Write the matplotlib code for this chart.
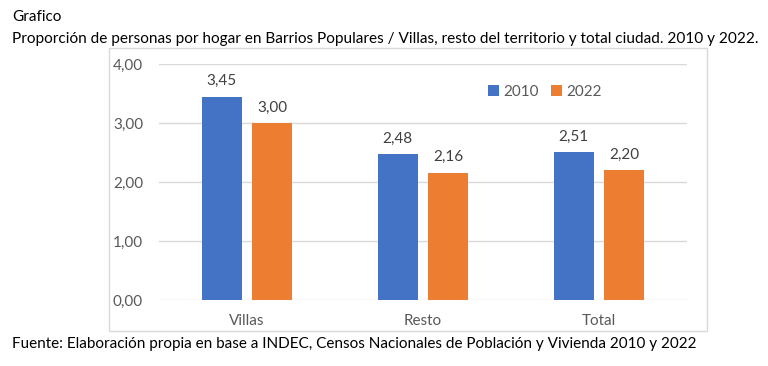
import matplotlib.pyplot as plt
import numpy as np

categorias = ['Villas', 'Resto', 'Total']
anio_2010 = [3.45, 2.48, 2.51]
anio_2022 = [3.00, 2.16, 2.20]
series = ['2010', '2022']

azul = '#4472C4'
naranja = '#ED7D31'
gris = '#595959'

plt.rcParams['font.family'] = ['Lato', 'DejaVu Sans']

fig = plt.figure(figsize=(7.68, 3.66), dpi=100)
ax = fig.add_axes([159 / 768, 1 - 300 / 366, 528 / 768, (300 - 64.3) / 366])

# marco del grafico
fig.patches.append(plt.Rectangle((109 / 768, 1 - 330.7 / 366), (706.7 - 109) / 768,
                                 (330.7 - 48.3) / 366, transform=fig.transFigure,
                                 fill=False, edgecolor='#D9D9D9', linewidth=1))

x = np.arange(len(categorias))
w = 0.224
d = 0.143
b1 = ax.bar(x - d, anio_2010, w, color=azul, label=series[0], zorder=3)
b2 = ax.bar(x + d, anio_2022, w, color=naranja, label=series[1], zorder=3)

for barras in (b1, b2):
    for r in barras:
        ax.annotate(f'{r.get_height():.2f}'.replace('.', ','),
                    (r.get_x() + r.get_width() / 2, r.get_height()),
                    xytext=(0, 6), textcoords='offset points',
                    ha='center', va='bottom', fontsize=11, color='#404040')

ax.set_xlim(-0.5, 2.5)
ax.set_ylim(0, 4)
ax.set_yticks([0, 1, 2, 3, 4])
ax.set_yticklabels(['0,00', '1,00', '2,00', '3,00', '4,00'])
ax.set_xticks(x)
ax.set_xticklabels(categorias)
ax.tick_params(axis='both', length=0, labelsize=11, labelcolor=gris)
ax.tick_params(axis='y', pad=11.5)
ax.tick_params(axis='x', pad=10)
ax.grid(axis='y', color='#D9D9D9', linewidth=1, zorder=0)
for s in ax.spines.values():
    s.set_visible(False)

ax.legend(loc='center', bbox_to_anchor=((545 - 159) / 528, (300 - 91.5) / (300 - 64.3)),
          ncol=2, frameon=False, fontsize=11, handlelength=0.7, handleheight=0.7,
          columnspacing=0.8, handletextpad=0.3, labelcolor=gris)

fig.text(12 / 768, 1 - 17 / 366, 'Grafico', fontsize=11, va='center', ha='left')
fig.text(12 / 768, 1 - 39 / 366,
         'Proporción de personas por hogar en Barrios Populares / Villas, resto del territorio y total ciudad. 2010 y 2022.',
         fontsize=11.07, va='center', ha='left')
fig.text(12 / 768, 1 - 344 / 366,
         'Fuente: Elaboración propia en base a INDEC, Censos Nacionales de Población y Vivienda 2010 y 2022',
         fontsize=11, va='center', ha='left')

fig.savefig('out.png', dpi=100)
